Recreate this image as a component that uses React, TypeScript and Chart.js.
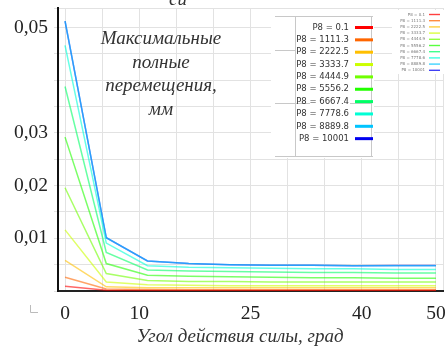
import React, { useEffect, useRef } from "react";
import { Chart, registerables } from "chart.js";

Chart.register(...registerables);

const angles = [0, 5.56, 11.11, 16.67, 22.22, 27.78, 33.33, 38.89, 44.44, 50];
const seriesLabels = ["P8 = 0.1", "P8 = 1111.3", "P8 = 2222.5", "P8 = 3333.7", "P8 = 4444.9", "P8 = 5556.2", "P8 = 6667.4", "P8 = 7778.6", "P8 = 8889.8", "P8 = 10001"];
const seriesColors = ["#ff0000", "#ff6600", "#ffbf00", "#ccff00", "#70ff00", "#22ff00", "#00ff66", "#00ffd5", "#00c4ff", "#0000f0"];
const s0 = [0.0009, 0.00015, 0.0001, 0.0001, 0.0001, 0.0001, 0.0001, 0.0001, 0.0001, 0.0001];
const s1 = [0.0026, 0.0004, 0.0003, 0.00025, 0.00025, 0.00025, 0.00025, 0.00025, 0.00025, 0.00025];
const s2 = [0.0058, 0.0008, 0.0006, 0.0006, 0.0006, 0.0006, 0.0006, 0.0006, 0.0006, 0.0006];
const s3 = [0.0116, 0.0017, 0.0012, 0.0011, 0.0010, 0.0010, 0.0010, 0.0010, 0.0010, 0.0010];
const s4 = [0.0196, 0.0033, 0.0020, 0.0018, 0.0018, 0.0017, 0.0017, 0.0017, 0.0017, 0.0017];
const s5 = [0.0292, 0.0052, 0.0030, 0.0028, 0.0027, 0.0026, 0.0025, 0.0025, 0.0024, 0.0024];
const s6 = [0.0388, 0.0073, 0.0040, 0.0038, 0.0037, 0.0036, 0.0035, 0.0035, 0.0034, 0.0034];
const s7 = [0.0466, 0.0091, 0.0048, 0.0045, 0.0044, 0.0043, 0.0042, 0.0042, 0.0041, 0.0041];
const s8 = [0.0512, 0.0101, 0.0057, 0.0052, 0.0050, 0.0049, 0.0049, 0.0048, 0.0048, 0.0048];
const s9 = [0.0512, 0.0101, 0.0057, 0.0052, 0.0050, 0.0049, 0.0049, 0.0048, 0.00485, 0.00485];
const seriesValues = [s0, s1, s2, s3, s4, s5, s6, s7, s8, s9];
const xTickLabels = [0, 10, 25, 40, 50];
const yTickLabels = [0.01, 0.02, 0.03, 0.05];
const xGrid = [-0.95, 0, 5, 10, 15, 20, 25, 30, 35, 40, 45, 50, 50.95];
const yGrid = [0, 0.005, 0.01, 0.015, 0.02, 0.025, 0.03, 0.035, 0.04, 0.045, 0.05, 0.0537];
const innerTitle = ["Максимальные", "полные", "перемещения,", "мм"];
const xTitle = "Угол действия силы, град";

function withAlpha(hex: string, a: number) {
  const r = parseInt(hex.slice(1, 3), 16);
  const g = parseInt(hex.slice(3, 5), 16);
  const b = parseInt(hex.slice(5, 7), 16);
  return `rgba(${r},${g},${b},${a})`;
}

const overlay = {
  id: "overlay",
  afterDraw(chart: any) {
    const ctx = chart.ctx;
    const ds = chart.data.datasets;
    ctx.save();
    ctx.fillStyle = "#333";
    ctx.font = "italic 19px 'Liberation Serif'";
    ctx.textAlign = "center";
    ctx.textBaseline = "middle";
    innerTitle.forEach((t, i) => ctx.fillText(t, 161, 39 + i * 23.5));
    ctx.fillText(xTitle, 240, 337);
    ctx.textAlign = "left";
    ctx.textBaseline = "alphabetic";
    ctx.fillText("си", 169, 5);
    // legend box
    ctx.fillStyle = "#fff";
    ctx.fillRect(271, 9, 103, 149);
    ctx.strokeStyle = "#c8c8c8";
    ctx.lineWidth = 1;
    ctx.beginPath();
    ctx.moveTo(275, 16.5); ctx.lineTo(373, 16.5);
    ctx.moveTo(295.5, 16.5); ctx.lineTo(295.5, 157);
    ctx.moveTo(371.5, 16.5); ctx.lineTo(371.5, 157);
    ctx.moveTo(275, 103.5); ctx.lineTo(372, 103.5);
    ctx.moveTo(275, 50.5); ctx.lineTo(295, 50.5);
    ctx.moveTo(275, 156.5); ctx.lineTo(373, 156.5);
    ctx.stroke();
    ctx.font = "8.5px 'DejaVu Sans'";
    ctx.textAlign = "right";
    ctx.textBaseline = "middle";
    ds.forEach((d: any, i: number) => {
      const y = 27.5 + i * 12.35;
      ctx.fillStyle = "#fff";
      ctx.fillRect(310, y - 5, 40, 10);
      ctx.fillStyle = "#333";
      ctx.fillText(d.label, 349, y);
      ctx.fillStyle = seriesColors[i];
      ctx.fillRect(355, y - 1.5, 18, 3);
    });
    // small legend
    ctx.fillStyle = "#fff";
    ctx.fillRect(392, 10, 52, 64);
    ctx.font = "4px 'DejaVu Sans'";
    ds.forEach((d: any, i: number) => {
      const y = 14.5 + i * 6.2;
      ctx.fillStyle = "#777";
      ctx.fillText(d.label, 425, y);
      ctx.fillStyle = withAlpha(seriesColors[i], 0.75);
      ctx.fillRect(429, y - 0.7, 11, 1.4);
    });
    ctx.strokeStyle = "#bbb";
    ctx.beginPath();
    ctx.moveTo(30.5, 305); ctx.lineTo(30.5, 312.5); ctx.lineTo(38, 312.5);
    ctx.stroke();
    ctx.restore();
  },
};

export default function App() {
  const ref = useRef<HTMLCanvasElement>(null);
  useEffect(() => {
    if (!ref.current) return;
    const chart = new Chart(ref.current, {
      type: "line",
      data: {
        datasets: seriesValues.map((vals, i) => ({
          label: seriesLabels[i],
          data: angles.map((a, j) => ({ x: a, y: vals[j] })),
          borderColor: withAlpha(seriesColors[i], 0.6),
          backgroundColor: seriesColors[i],
          borderWidth: 1.5,
          pointRadius: 0,
          tension: 0,
          order: i === 9 ? 1 : 0,
        })),
      },
      options: {
        animation: false,
        responsive: false,
        maintainAspectRatio: false,
        layout: { padding: { top: 8, right: 3, left: 0, bottom: 0 } },
        plugins: { legend: { display: false }, tooltip: { enabled: false }, title: { display: false } },
        scales: {
          x: {
            type: "linear",
            min: -0.95,
            max: 50.95,
            afterFit: (s: any) => { s.height = 56; s.paddingLeft = 0; s.paddingRight = 0; },
            afterBuildTicks: (s: any) => { s.ticks = xGrid.map((v) => ({ value: v })); },
            border: { color: "#222", width: 2 },
            grid: { color: "#e2e2e2", lineWidth: 1, tickLength: 0 },
            ticks: {
              autoSkip: false,
              maxRotation: 0,
              padding: 11,
              color: "#222",
              font: { family: "'Liberation Serif'", size: 19.5 },
              callback: (v: any) => (xTickLabels.some((t) => Math.abs(t - v) < 1e-6) ? String(Math.round(v)) : ""),
            },
          },
          y: {
            type: "linear",
            min: 0,
            max: 0.0537,
            afterFit: (s: any) => { s.width = 58; s.paddingTop = 0; s.paddingBottom = 0; },
            afterBuildTicks: (s: any) => { s.ticks = yGrid.map((v) => ({ value: v })); },
            border: { color: "#111", width: 2 },
            grid: { color: "#e2e2e2", lineWidth: 1, tickLength: 4 },
            ticks: {
              autoSkip: false,
              padding: 6,
              color: "#222",
              font: { family: "'Liberation Serif'", size: 19.5 },
              callback: (v: any) => (yTickLabels.some((t) => Math.abs(t - v) < 1e-7) ? Number(v).toFixed(2).replace(".", ",") : ""),
            },
          },
        },
      },
      plugins: [overlay],
    } as any);
    return () => chart.destroy();
  }, []);
  return (
    <div style={{ position: "absolute", left: 0, top: 0, width: 446, height: 347, background: "#fff" }}>
      <canvas ref={ref} width={446} height={347} style={{ width: 446, height: 347, display: "block" }} />
    </div>
  );
}
